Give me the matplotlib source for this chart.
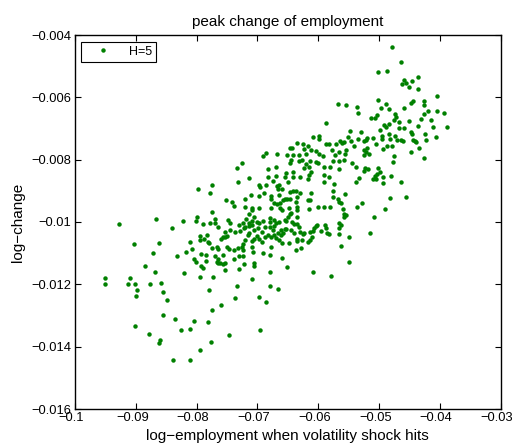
import matplotlib
matplotlib.use("Agg")
import matplotlib.pyplot as plt
from matplotlib.transforms import ScaledTranslation
import numpy as np

plt.rcParams['font.family'] = ['Liberation Sans', 'DejaVu Sans']

# left part of the cloud (low employment)
emp_left = [-0.0797, -0.0774, -0.0778, -0.0774, -0.0928, -0.0866, -0.0822, -0.0799, -0.0801, -0.0790,
            -0.0778, -0.0840, -0.0903, -0.0861, -0.0871, -0.0885, -0.0868, -0.0832, -0.0818, -0.0810,
            -0.0807, -0.0794, -0.0794, -0.0788, -0.0783, -0.0782, -0.0779, -0.0805, -0.0801, -0.0792,
            -0.0785, -0.0784, -0.0792, -0.0789, -0.0820, -0.0794, -0.0773, -0.0951, -0.0950, -0.0909,
            -0.0913, -0.0901, -0.0876, -0.0858,
            -0.0898, -0.0899, -0.0855, -0.0848, -0.0780, -0.0774, -0.0855, -0.0835, -0.0902, -0.0878,
            -0.0860, -0.0861, -0.0825, -0.0811, -0.0805, -0.0782, -0.0777, -0.0794, -0.0838, -0.0811,
            -0.0734, -0.0679, -0.0666, -0.0736, -0.0697, -0.0686, -0.0759, -0.0747, -0.0696]
chg_left = [-0.00893, -0.00880, -0.00907, -0.00968, -0.01006, -0.00989, -0.00996, -0.00983, -0.00996, -0.01006,
            -0.01004, -0.01019, -0.01070, -0.01068, -0.01098, -0.01140, -0.01162, -0.01110, -0.01096, -0.01063,
            -0.01086, -0.01045, -0.01058, -0.01055, -0.01042, -0.01063, -0.01068, -0.01120, -0.01129, -0.01104,
            -0.01106, -0.01125, -0.01141, -0.01146, -0.01165, -0.01178, -0.01178, -0.01181, -0.01200, -0.01180,
            -0.01200, -0.01200, -0.01199, -0.01195,
            -0.01219, -0.01237, -0.01224, -0.01249, -0.01219, -0.01283, -0.01298, -0.01311, -0.01335, -0.01360,
            -0.01378, -0.01388, -0.01347, -0.01344, -0.01319, -0.01321, -0.01386, -0.01412, -0.01444, -0.01444,
            -0.01206, -0.01206, -0.01215, -0.01244, -0.01242, -0.01256, -0.01265, -0.01364, -0.01346]

# middle part (dense band)
emp_mid = [-0.0725, -0.0733, -0.0682, -0.0670, -0.0647, -0.0644, -0.0632, -0.0626, -0.0614, -0.0604,
           -0.0600, -0.0620, -0.0624, -0.0615, -0.0611, -0.0615, -0.0590, -0.0581, -0.0576, -0.0565,
           -0.0557, -0.0544, -0.0565, -0.0537, -0.0683, -0.0669, -0.0653, -0.0655, -0.0642, -0.0641,
           -0.0630, -0.0616, -0.0591, -0.0582, -0.0649, -0.0590, -0.0574, -0.0575,
           -0.0732, -0.0713, -0.0698, -0.0696, -0.0685, -0.0675, -0.0667, -0.0664, -0.0666, -0.0659,
           -0.0647, -0.0642, -0.0636, -0.0630, -0.0634, -0.0612, -0.0710, -0.0720, -0.0689, -0.0697,
           -0.0677, -0.0677, -0.0664, -0.0655, -0.0651, -0.0647, -0.0617, -0.0614, -0.0555, -0.0565,
           -0.0562, -0.0575, -0.0568,
           -0.0752, -0.0742, -0.0739, -0.0720, -0.0709, -0.0697, -0.0672, -0.0668, -0.0662, -0.0657,
           -0.0659, -0.0663, -0.0677, -0.0648, -0.0636, -0.0635, -0.0634, -0.0615, -0.0601, -0.0590,
           -0.0581, -0.0559, -0.0557, -0.0708, -0.0714, -0.0705, -0.0709, -0.0647, -0.0644, -0.0649,
           -0.0635, -0.0653,
           -0.0769, -0.0769, -0.0764, -0.0749, -0.0745, -0.0718, -0.0714, -0.0713, -0.0701, -0.0697,
           -0.0691, -0.0680, -0.0679, -0.0672, -0.0669, -0.0664, -0.0654, -0.0643, -0.0639, -0.0634,
           -0.0631, -0.0644, -0.0630, -0.0614, -0.0604, -0.0602, -0.0588, -0.0587, -0.0566, -0.0562,
           -0.0566, -0.0554, -0.0557, -0.0550, -0.0565, -0.0582, -0.0586, -0.0595, -0.0608, -0.0606,
           -0.0724, -0.0720, -0.0708, -0.0730, -0.0722, -0.0736, -0.0728, -0.0754, -0.0756, -0.0750,
           -0.0745, -0.0705, -0.0699, -0.0692, -0.0688, -0.0680, -0.0675, -0.0673, -0.0661, -0.0655,
           -0.0653, -0.0658,
           -0.0760, -0.0753, -0.0775, -0.0767, -0.0764, -0.0750, -0.0747, -0.0738, -0.0723, -0.0725,
           -0.0720, -0.0716, -0.0713, -0.0709, -0.0705, -0.0701, -0.0697, -0.0693, -0.0687, -0.0683,
           -0.0677, -0.0672, -0.0669, -0.0666, -0.0665, -0.0661, -0.0648, -0.0639, -0.0635, -0.0634,
           -0.0625, -0.0623, -0.0626, -0.0628, -0.0617, -0.0614, -0.0610, -0.0637, -0.0659, -0.0677,
           -0.0690, -0.0707, -0.0709, -0.0724, -0.0732, -0.0723, -0.0731, -0.0738, -0.0757, -0.0769,
           -0.0767, -0.0764, -0.0761, -0.0757, -0.0753, -0.0765, -0.0754, -0.0731, -0.0722, -0.0705,
           -0.0706, -0.0680, -0.0659, -0.0679, -0.0651, -0.0608, -0.0579, -0.0550, -0.0562, -0.0708,
           -0.0568, -0.0554, -0.0587, -0.0547, -0.0609, -0.0598, -0.0598, -0.0635, -0.0647, -0.0643,
           -0.0625, -0.0617, -0.0623, -0.0612, -0.0603, -0.0587, -0.0582, -0.0570, -0.0564, -0.0560,
           -0.0557, -0.0551, -0.0546, -0.0541, -0.0577, -0.0565, -0.0554, -0.0555, -0.0598, -0.0592,
           -0.0631, -0.0620, -0.0642, -0.0652, -0.0668, -0.0685, -0.0690, -0.0573]
chg_mid = [-0.00810, -0.00826, -0.00829, -0.00822, -0.00810, -0.00802, -0.00804, -0.00801, -0.00803, -0.00807,
           -0.00812, -0.00814, -0.00826, -0.00825, -0.00838, -0.00849, -0.00825, -0.00825, -0.00804, -0.00804,
           -0.00801, -0.00810, -0.00829, -0.00825, -0.00855, -0.00852, -0.00842, -0.00855, -0.00838, -0.00857,
           -0.00855, -0.00863, -0.00850, -0.00857, -0.00872, -0.00872, -0.00878, -0.00899,
           -0.00873, -0.00860, -0.00882, -0.00889, -0.00882, -0.00869, -0.00883, -0.00882, -0.00893, -0.00895,
           -0.00903, -0.00899, -0.00899, -0.00908, -0.00921, -0.00907, -0.00913, -0.00926, -0.00907, -0.00915,
           -0.00927, -0.00915, -0.00913, -0.00927, -0.00927, -0.00927, -0.00929, -0.00929, -0.00910, -0.00935,
           -0.00940, -0.00921, -0.00926,
           -0.00929, -0.00935, -0.00948, -0.00953, -0.00956, -0.00956, -0.00938, -0.00942, -0.00938, -0.00929,
           -0.00962, -0.00954, -0.00954, -0.00954, -0.00935, -0.00951, -0.00962, -0.00959, -0.00953, -0.00951,
           -0.00951, -0.00959, -0.00974, -0.00962, -0.00975, -0.00985, -0.00997, -0.00974, -0.00972, -0.00983,
           -0.00983, -0.00996,
           -0.00991, -0.01004, -0.01015, -0.00994, -0.01002, -0.00991, -0.01002, -0.01013, -0.00999, -0.01004,
           -0.00997, -0.00988, -0.00999, -0.00994, -0.01002, -0.00999, -0.00994, -0.00999, -0.01008, -0.01006,
           -0.01017, -0.01026, -0.01031, -0.01031, -0.01013, -0.01010, -0.01010, -0.01020, -0.01004, -0.01010,
           -0.01020, -0.00978, -0.00983, -0.01047, -0.01039, -0.01039, -0.01036, -0.01029, -0.01029, -0.01018,
           -0.01004, -0.01015, -0.01011, -0.01010, -0.01020, -0.01031, -0.01028, -0.01031, -0.01049, -0.01044,
           -0.01026, -0.01026, -0.01020, -0.01031, -0.01015, -0.01015, -0.01026, -0.01013, -0.01026, -0.01024,
           -0.01021, -0.01036,
           -0.01056, -0.01049, -0.01085, -0.01079, -0.01088, -0.01081, -0.01088, -0.01090, -0.01069, -0.01081,
           -0.01058, -0.01042, -0.01034, -0.01061, -0.01056, -0.01045, -0.01056, -0.01063, -0.01047, -0.01041,
           -0.01047, -0.01042, -0.01052, -0.01036, -0.01058, -0.01042, -0.01066, -0.01034, -0.01056, -0.01060,
           -0.01039, -0.01036, -0.01058, -0.01085, -0.01063, -0.01058, -0.01049, -0.01090, -0.01066, -0.01079,
           -0.01098, -0.01095, -0.01081, -0.01090, -0.01085, -0.01109, -0.01109, -0.01119, -0.01106, -0.01109,
           -0.01127, -0.01131, -0.01131, -0.01135, -0.01133, -0.01120, -0.01154, -0.01151, -0.01135, -0.01141,
           -0.01133, -0.01106, -0.01115, -0.01159, -0.01143, -0.01159, -0.01172, -0.01127, -0.01077, -0.01184,
           -0.00622, -0.00625, -0.00683, -0.00709, -0.00728, -0.00723, -0.00733, -0.00747, -0.00763, -0.00763,
           -0.00751, -0.00757, -0.00767, -0.00770, -0.00772, -0.00749, -0.00749, -0.00751, -0.00740, -0.00747,
           -0.00743, -0.00727, -0.00741, -0.00757, -0.00770, -0.00775, -0.00770, -0.00781, -0.00781, -0.00789,
           -0.00785, -0.00783, -0.00784, -0.00786, -0.00781, -0.00778, -0.00789, -0.00786]

# right part (high employment)
emp_right = [-0.0479, -0.0463, -0.0501, -0.0487, -0.0459, -0.0462, -0.0456, -0.0445, -0.0436, -0.0450,
             -0.0436, -0.0501, -0.0488, -0.0496, -0.0483, -0.0536, -0.0534, -0.0503, -0.0513, -0.0507,
             -0.0459, -0.0448, -0.0444, -0.0426, -0.0426, -0.0405, -0.0474, -0.0472, -0.0475, -0.0467,
             -0.0484, -0.0492, -0.0489, -0.0499, -0.0530, -0.0467, -0.0458, -0.0451, -0.0436, -0.0430,
             -0.0426, -0.0420, -0.0414, -0.0404, -0.0393, -0.0411, -0.0388, -0.0406, -0.0424, -0.0448,
             -0.0445, -0.0483, -0.0473, -0.0495, -0.0495, -0.0519, -0.0510, -0.0522, -0.0525, -0.0534,
             -0.0481, -0.0470, -0.0464, -0.0460, -0.0444, -0.0441, -0.0439, -0.0423, -0.0504, -0.0486,
             -0.0479, -0.0519, -0.0525, -0.0517, -0.0524, -0.0521, -0.0493, -0.0434, -0.0447, -0.0476,
             -0.0477, -0.0426,
             -0.0523, -0.0518, -0.0525, -0.0502, -0.0499, -0.0503, -0.0506, -0.0509, -0.0505, -0.0493,
             -0.0480, -0.0493, -0.0464, -0.0532, -0.0537, -0.0481, -0.0456, -0.0528, -0.0536, -0.0490,
             -0.0508, -0.0514]
chg_right = [-0.00437, -0.00486, -0.00519, -0.00515, -0.00543, -0.00557, -0.00553, -0.00546, -0.00536, -0.00568,
             -0.00572, -0.00608, -0.00620, -0.00634, -0.00638, -0.00631, -0.00650, -0.00656, -0.00667, -0.00667,
             -0.00633, -0.00618, -0.00612, -0.00613, -0.00626, -0.00595, -0.00655, -0.00664, -0.00672, -0.00679,
             -0.00687, -0.00690, -0.00695, -0.00704, -0.00711, -0.00698, -0.00699, -0.00675, -0.00692, -0.00671,
             -0.00653, -0.00644, -0.00673, -0.00643, -0.00650, -0.00695, -0.00695, -0.00728, -0.00717, -0.00711,
             -0.00719, -0.00719, -0.00724, -0.00723, -0.00733, -0.00730, -0.00731, -0.00738, -0.00741, -0.00733,
             -0.00735, -0.00738, -0.00738, -0.00740, -0.00736, -0.00740, -0.00743, -0.00738, -0.00751, -0.00755,
             -0.00755, -0.00763, -0.00768, -0.00781, -0.00785, -0.00776, -0.00767, -0.00764, -0.00774, -0.00788,
             -0.00808, -0.00796,
             -0.00828, -0.00831, -0.00835, -0.00828, -0.00838, -0.00846, -0.00854, -0.00863, -0.00862, -0.00857,
             -0.00854, -0.00875, -0.00873, -0.00860, -0.00873, -0.00924, -0.00921, -0.00940, -0.00951, -0.00958,
             -0.00985, -0.01035]

x_ticks = [-0.1, -0.09, -0.08, -0.07, -0.06, -0.05, -0.04, -0.03]
y_ticks = [-0.016, -0.014, -0.012, -0.01, -0.008, -0.006, -0.004]

emp = np.concatenate([emp_left, emp_mid, emp_right])
chg = np.concatenate([chg_left, chg_mid, chg_right])

fig = plt.figure(figsize=(5.12, 4.43), dpi=100)
ax = fig.add_axes([75 / 512, 1 - 409 / 443, 425.5 / 512, 374 / 443])

ax.plot(emp, chg, 'o', color='#008000', markersize=3.2, markeredgewidth=0, label='H=5')

ax.set_xlim(-0.1, -0.03)
ax.set_ylim(-0.016, -0.004)
ax.set_xticks(x_ticks)
ax.set_yticks(y_ticks)
ax.set_xticklabels([('%g' % v).replace('-', '\u2212') for v in x_ticks])
ax.set_yticklabels([('%g' % v).replace('-', '\u2212') for v in y_ticks])
ax.tick_params(direction='in', top=True, right=True, length=4, width=0.8,
               labelsize=9.3, pad=2.5)
for s in ax.spines.values():
    s.set_linewidth(1.0)

# MATLAB puts x tick labels a few pixels left of their ticks
shift = ScaledTranslation(-3.5 / 100, 0, fig.dpi_scale_trans)
for lab in ax.get_xticklabels():
    lab.set_transform(lab.get_transform() + shift)

ax.set_title('peak change of employment', fontsize=11, pad=6.5)
ax.set_xlabel('log\u2212employment when volatility shock hits', fontsize=11, labelpad=3)
ax.set_ylabel('log\u2212change', fontsize=11, labelpad=5)

leg = ax.legend(loc='upper left', bbox_to_anchor=(0.0134, 0.981), borderaxespad=0,
                fontsize=9, numpoints=1, handlelength=3.0, handletextpad=0.6,
                borderpad=0.3, fancybox=False, framealpha=1, edgecolor='black')
leg.get_frame().set_linewidth(0.8)

fig.savefig('out.png', dpi=100)
